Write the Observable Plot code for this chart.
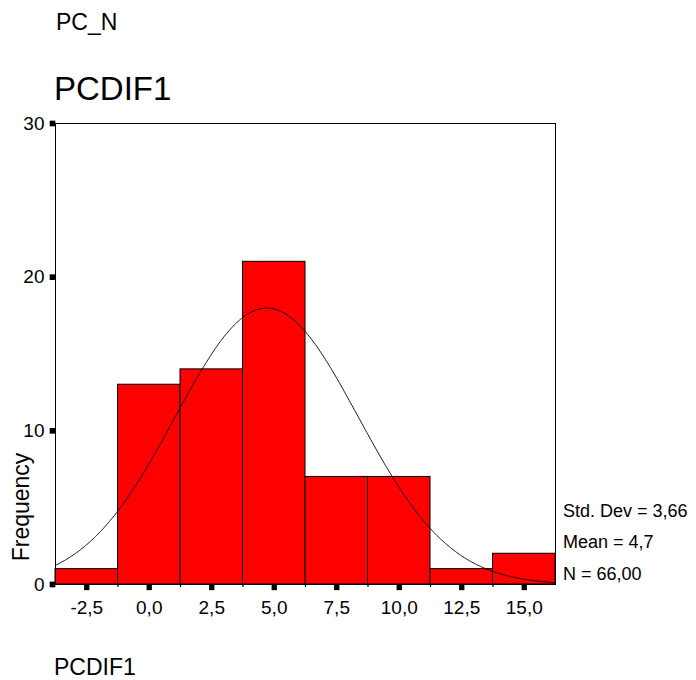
<!DOCTYPE html>
<html>
<head>
<meta charset="utf-8">
<script src="https://cdn.jsdelivr.net/npm/d3@7"></script>
<script src="https://cdn.jsdelivr.net/npm/@observablehq/plot@0.6"></script>
<style>
  body { margin: 0; background: #fff; }
  #chart svg { display: block; font-family: "Liberation Sans", Arial, sans-serif; }
</style>
</head>
<body>
<div id="chart"></div>
<script>
// Histogram of PCDIF1 with fitted normal curve
const binCenters = [-2.5, 0, 2.5, 5, 7.5, 10, 12.5, 15];
const frequencies = [1, 13, 14, 21, 7, 7, 1, 2];
const yTicks = [0, 10, 20, 30];
const binWidth = 2.5;
const stdDev = 3.66;
const mean = 4.7;
const n = 66;

const comma = (v, digits) => v.toFixed(digits).replace(".", ",");

const bins = binCenters.map((c, i) => ({
  x1: c - binWidth / 2,
  x2: c + binWidth / 2,
  count: frequencies[i]
}));
const xMin = binCenters[0] - binWidth / 2;
const xMax = binCenters[binCenters.length - 1] + binWidth / 2;
const edges = bins.slice(1).map(b => b.x1);

// Normal curve scaled to counts: N * bin width * density
const curve = d3.range(xMin, xMax + 1e-9, 0.05).map(x => ({
  x,
  y: n * binWidth * Math.exp(-0.5 * ((x - mean) / stdDev) ** 2) / (stdDev * Math.sqrt(2 * Math.PI))
}));

const chart = Plot.plot({
  width: 696,
  height: 680,
  marginLeft: 55,
  marginRight: 141,
  marginTop: 123,
  marginBottom: 96,
  style: { fontSize: "18px", fontFamily: "'Liberation Sans', Arial, sans-serif", color: "black" },
  x: { domain: [xMin, xMax] },
  y: { domain: [0, 30] },
  marks: [
    Plot.rectY(bins, { x1: "x1", x2: "x2", y: "count", fill: "#ff0000", stroke: "black", strokeWidth: 1 }),
    Plot.frame({ stroke: "black", strokeWidth: 1 }),
    Plot.line(curve, { x: "x", y: "y", stroke: "black", strokeWidth: 0.9, curve: "linear" }),
    Plot.ruleX(edges, { x: d => d, y1: 0, y2: 0, insetBottom: -3, stroke: "black", strokeWidth: 1.2 }),
    Plot.dot(binCenters, { x: d => d, y: 0, dy: 3, symbol: "square", r: 3, fill: "black", stroke: null }),
    Plot.dot(yTicks, { x: xMin, y: d => d, dx: -3, symbol: "square", r: 3.2, fill: "black", stroke: null }),
    Plot.axisX({ ticks: binCenters, tickFormat: d => comma(d, 1), tickSize: 0, tickPadding: 16, fontSize: 19, label: null }),
    Plot.axisY({ ticks: yTicks, tickFormat: d => String(d), tickSize: 0, tickPadding: 11, fontSize: 19, label: null })
  ]
});

document.getElementById("chart").append(chart);

// Titles, axis label and summary statistics
const svg = d3.select(chart);
const addText = (x, y, str, size, opts = {}) => {
  const t = svg.append("text")
    .attr("x", x).attr("y", y)
    .attr("font-size", size)
    .attr("fill", "black")
    .attr("text-anchor", opts.anchor || "start")
    .attr("font-family", "'Liberation Sans', Arial, sans-serif")
    .text(str);
  if (opts.rotate) t.attr("transform", `rotate(${opts.rotate} ${x} ${y})`);
  return t;
};
addText(56, 30, "PC_N", 23);
addText(54, 100, "PCDIF1", 33);
addText(54, 675, "PCDIF1", 23);
addText(29, 507, "Frequency", 23, { anchor: "middle", rotate: -90 });
addText(563, 517, `Std. Dev = ${comma(stdDev, 2)}`, 18);
addText(563, 548, `Mean = ${comma(mean, 1)}`, 18);
addText(563, 580, `N = ${comma(n, 2)}`, 18);
</script>
</body>
</html>
